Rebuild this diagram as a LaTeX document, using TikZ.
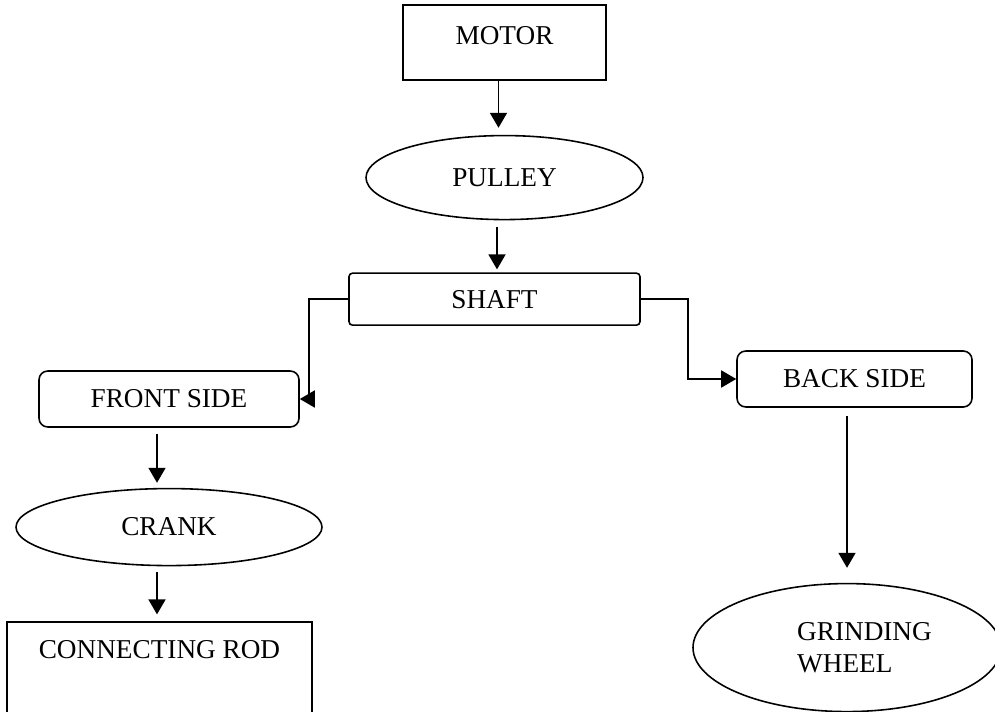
\documentclass[tikz,border=0pt]{standalone}
\usepackage{fontspec}
\setmainfont{Liberation Serif}
\usetikzlibrary{shapes.geometric, arrows.meta, positioning, calc}

\begin{document}
\begin{tikzpicture}[
        node distance=1cm and 1.5cm,
        blockbox/.style={rectangle, draw=black, fill=white, line width=0.9pt, inner sep=0pt, align=center, font=\fontsize{15.5}{18}\selectfont},
        roundbox/.style={blockbox, rounded corners=5pt},
        ovalbox/.style={ellipse, draw=black, fill=white, line width=0.9pt, inner sep=0pt, align=left, font=\fontsize{15.5}{18}\selectfont},
        arrow/.style={-{Triangle[width=0.34cm, length=0.3cm]}, line width=1pt, draw=black}
    ]
        \useasboundingbox (0,0) rectangle (19.9,-14.24);

        \node[blockbox, minimum width=4.06cm, minimum height=1.5cm, text height=0.4cm, text depth=0.32cm] (motor) at (10.09,-0.85) {MOTOR};
        \node[ovalbox, minimum width=5.54cm, minimum height=1.68cm, below=1.08cm of motor] (pulley) {PULLEY};
        \node[roundbox, rounded corners=2pt, minimum width=5.82cm, minimum height=1.04cm, below=1.04cm of pulley, xshift=-0.2cm] (shaft) {SHAFT};
        \node[roundbox, minimum width=5.2cm, minimum height=1.12cm] (front) at (3.38,-7.98) {FRONT SIDE};
        \node[roundbox, minimum width=4.7cm, minimum height=1.12cm] (back) at (17.09,-7.58) {BACK SIDE};
        \node[ovalbox, minimum width=6.12cm, minimum height=1.54cm, below=1.2cm of front] (crank) {CRANK};
        \node[blockbox, minimum width=6.1cm, inner ysep=0.25cm, text height=0.47cm, text depth=0.97cm, below=1.1cm of crank, xshift=-0.19cm] (rod) {CONNECTING ROD};
        \node[ovalbox, minimum width=6.16cm, minimum height=2.56cm, below=3.5cm of back, xshift=-0.15cm] (grind) {\hspace*{0.7cm}GRINDING\\\hspace*{0.7cm}WHEEL};

        \draw[arrow, shorten >=0.14cm] ([xshift=-0.12cm]motor.south) -- ([xshift=-0.12cm]motor.south |- pulley.north);
        \draw[arrow, shorten <=0.14cm, shorten >=0.06cm] ([xshift=-0.15cm]pulley.south) -- ([xshift=-0.15cm]pulley.south |- shaft.north);
        \draw[arrow] (shaft.west) -- ++(-0.78cm,0) |- (front.east);
        \draw[arrow] (shaft.east) -- ++(0.94cm,0) |- (back.west);
        \draw[arrow, shorten <=0.12cm, shorten >=0.1cm] ([xshift=-0.24cm]front.south) -- ([xshift=-0.24cm]front.south |- crank.north);
        \draw[arrow, shorten <=0.12cm, shorten >=0.14cm] ([xshift=-0.05cm]rod.north |- crank.south) -- ([xshift=-0.05cm]rod.north);
        \draw[arrow, shorten <=0.16cm, shorten >=0.3cm] (grind.north |- back.south) -- (grind.north);
    \end{tikzpicture}
\end{document}
